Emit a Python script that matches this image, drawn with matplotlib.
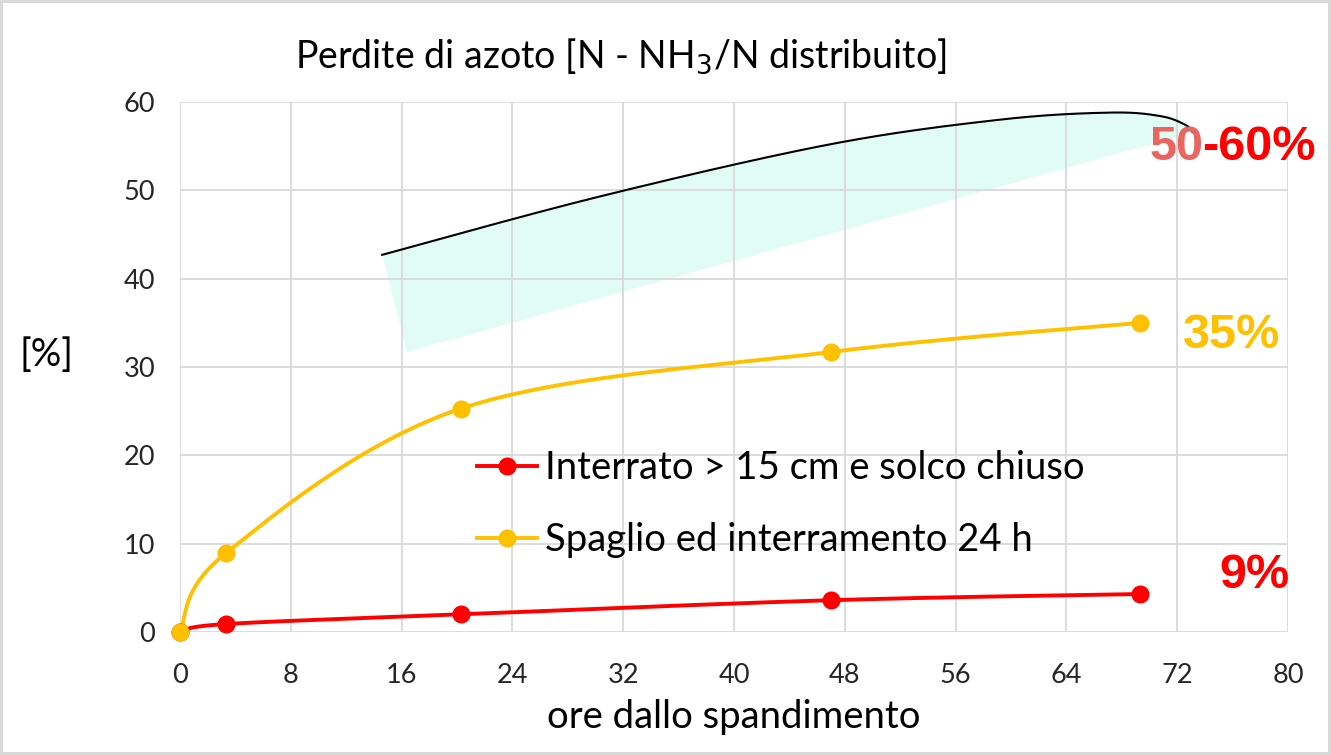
import numpy as np
import matplotlib.pyplot as plt

# ore dallo spandimento
ore = [0, 3.3, 20.3, 47, 69.3]
interrato = [0, 0.9, 2.0, 3.6, 4.3]
spaglio = [0, 8.9, 25.3, 31.7, 35.0]

serie_labels = ['Interrato > 15 cm e solco chiuso', 'Spaglio ed interramento 24 h']
x_ticks = [0, 8, 16, 24, 32, 40, 48, 56, 64, 72, 80]
y_ticks = [0, 10, 20, 30, 40, 50, 60]

# banda 50-60% (forma disegnata a mano)
banda_sup_x = [14.6, 30.3, 46.9, 59.2, 67.1, 70.8, 72.6, 73.1]
banda_sup_y = [42.7, 49.3, 55.2, 58.0, 58.8, 58.4, 57.4, 56.6]
banda_inf_x = [72.6, 16.4]
banda_inf_y = [56.3, 31.7]

ROSSO = '#FF0000'
GIALLO = '#FFC000'


def smooth(x, y, n=40):
    """Curva smussata tipo Excel (Catmull-Rom / Bezier)"""
    p = np.column_stack([x, y]).astype(float)
    p = np.vstack([p[0], p, p[-1]])
    t = np.linspace(0, 1, n)[:, None]
    out = []
    for i in range(1, len(p) - 2):
        p0, p1, p2, p3 = p[i - 1], p[i], p[i + 1], p[i + 2]
        b1 = p1 + (p2 - p0) / 6
        b2 = p2 - (p3 - p1) / 6
        seg = ((1 - t) ** 3) * p1 + 3 * ((1 - t) ** 2) * t * b1 + 3 * (1 - t) * t ** 2 * b2 + t ** 3 * p2
        out.append(seg)
    c = np.vstack(out)
    return c[:, 0], c[:, 1]


plt.rcParams['font.family'] = ['Lato', 'DejaVu Sans']

fig = plt.figure(figsize=(13.31, 7.55), dpi=100)
fig.patch.set_edgecolor('#D9D9D9')
fig.patch.set_linewidth(3)
ax = fig.add_axes([0.1352, 0.1629, 0.8325, 0.702])

# banda
sx, sy = smooth(banda_sup_x, banda_sup_y)
ax.fill(np.concatenate([sx, banda_inf_x]), np.concatenate([sy, banda_inf_y]),
        color='#E0FCF5', lw=0, zorder=1)
ax.plot(sx, sy, color='black', lw=1.5, zorder=2)

for vals, col, lab in [(interrato, ROSSO, serie_labels[0]), (spaglio, GIALLO, serie_labels[1])]:
    cx, cy = smooth(ore, vals)
    ax.plot(cx, cy, color=col, lw=2.8, zorder=3)
    ax.plot(ore, vals, 'o', color=col, ms=12, zorder=4, clip_on=False)
    ax.plot([], [], '-o', color=col, lw=2.8, ms=12, label=lab)

ax.set_xlim(0, 80)
ax.set_ylim(0, 60)
ax.set_xticks(x_ticks)
ax.set_yticks(y_ticks)
ax.grid(True, color='#D9D9D9', lw=1.3)
for s in ax.spines.values():
    s.set_visible(False)
ax.tick_params(length=0, labelsize=19.5, colors='#262626')
ax.tick_params(axis='x', pad=22)
ax.tick_params(axis='y', pad=18)

ax.set_xlabel('ore dallo spandimento', fontsize=27.5, labelpad=8)
fig.text(0.0346, 0.53, '[%]', fontsize=27.5, ha='center', va='center')
fig.text(0.466, 0.925, 'Perdite di azoto [N - NH$_3$/N distribuito]', fontsize=27,
         ha='center', va='center')

ax.legend(loc='center left', bbox_to_anchor=(0.3584, 0.332), bbox_transform=fig.transFigure,
          frameon=False, fontsize=27.5, handlelength=1.58, labelspacing=0.95,
          handletextpad=0.2, borderpad=0, borderaxespad=0)

# etichette percentuali
bold = dict(fontsize=35, fontweight='bold', family='Liberation Sans')
t50 = fig.text(0.864, 0.805, '50', color='#EB6560', ha='left', va='center', **bold)
ax.annotate('-60%', xy=(1, 0.5), xycoords=t50, xytext=(-1.5, 0), textcoords='offset points',
            color=ROSSO, ha='left', va='center', **bold)
fig.text(0.962, 0.556, '35%', color=GIALLO, ha='right', va='center', **bold)
fig.text(0.969, 0.238, '9%', color=ROSSO, ha='right', va='center', **bold)

fig.savefig('out.png', dpi=100)
